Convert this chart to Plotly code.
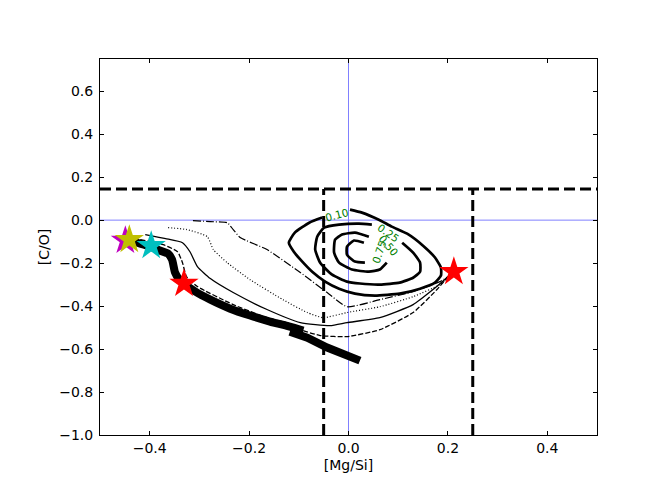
import plotly.graph_objects as go

# thick track, two pieces
thick_a_x = [-0.439, -0.425, -0.399, -0.385, -0.363, -0.355, -0.349, -0.341, -0.331, -0.308, -0.278, -0.238, -0.198, -0.158, -0.118, -0.091]
thick_a_y = [-0.095, -0.105, -0.123, -0.137, -0.156, -0.184, -0.244, -0.275, -0.296, -0.333, -0.370, -0.412, -0.444, -0.472, -0.496, -0.514]
thick_b_x = [-0.118, -0.083, -0.043, -0.003, 0.023]
thick_b_y = [-0.519, -0.547, -0.593, -0.635, -0.654]

# thin tracks
solid_x = [-0.409, -0.368, -0.334, -0.319, -0.304, -0.278, -0.232, -0.164, -0.097, -0.037, -0.003, 0.063, 0.130, 0.170, 0.200]
solid_y = [-0.067, -0.086, -0.105, -0.147, -0.216, -0.272, -0.337, -0.416, -0.477, -0.491, -0.477, -0.454, -0.393, -0.323, -0.263]
dash_x = [-0.419, -0.373, -0.344, -0.334, -0.326, -0.304, -0.232, -0.164, -0.118, -0.097, -0.057, -0.003, 0.063, 0.130, 0.178, 0.200]
dash_y = [-0.091, -0.114, -0.147, -0.198, -0.263, -0.309, -0.393, -0.454, -0.482, -0.510, -0.537, -0.542, -0.510, -0.430, -0.323, -0.263]
dot_x = [-0.363, -0.325, -0.284, -0.272, -0.244, -0.198, -0.132, -0.083, -0.051, -0.003, 0.063, 0.130, 0.184, 0.200]
dot_y = [-0.035, -0.044, -0.077, -0.137, -0.198, -0.277, -0.370, -0.430, -0.454, -0.430, -0.403, -0.356, -0.300, -0.268]
dashdot_x = [-0.313, -0.278, -0.244, -0.232, -0.218, -0.164, -0.097, -0.043, -0.003, 0.063, 0.130, 0.184, 0.200]
dashdot_y = [-0.002, -0.007, -0.012, -0.044, -0.081, -0.137, -0.244, -0.337, -0.403, -0.370, -0.333, -0.286, -0.263]

# density contours
c10_x = [0.003, 0.027, 0.061, 0.087, 0.118, 0.150, 0.174, 0.186, 0.186, 0.174, 0.144, 0.103, 0.053, 0.013, -0.019, -0.047, -0.073, -0.093, -0.110, -0.120, -0.108, -0.079, -0.053]
c10_y = [0.049, 0.035, 0.002, -0.030, -0.063, -0.119, -0.174, -0.221, -0.258, -0.291, -0.319, -0.342, -0.351, -0.342, -0.319, -0.286, -0.240, -0.193, -0.147, -0.105, -0.058, -0.012, 0.012]
c25_x = [0.108, 0.130, 0.144, 0.144, 0.130, 0.103, 0.063, 0.023, -0.003, -0.033, -0.057, -0.067, -0.063, -0.049, -0.019, 0.021, 0.047]
c25_y = [-0.105, -0.151, -0.198, -0.240, -0.268, -0.291, -0.300, -0.295, -0.286, -0.254, -0.198, -0.137, -0.077, -0.035, -0.021, -0.016, -0.021]
c50_x = [0.077, 0.063, 0.041, 0.007, -0.019, -0.029, -0.027, -0.013, 0.013, 0.041]
c50_y = [-0.198, -0.230, -0.240, -0.230, -0.198, -0.151, -0.091, -0.067, -0.058, -0.077]
c75_x = [0.031, 0.011, -0.003, -0.003, 0.013, 0.033]
c75_y = [-0.105, -0.095, -0.123, -0.161, -0.193, -0.198]

levels = ["0.10", "0.25", "0.50", "0.75"]
label_x = [-0.025, 0.081, 0.080, 0.061]
label_y = [0.026, -0.058, -0.116, -0.147]
label_angle = [-15, 35, 50, -72]

# stars
star_x = [-0.449, -0.441, -0.397, -0.331, 0.212]
star_y = [-0.095, -0.091, -0.119, -0.295, -0.240]
star_colors = ["#bf00bf", "#bfbf00", "#00bfbf", "#ff0000", "#ff0000"]

# limits
mgsi_cut = [-0.05, 0.25]
co_cut = 0.145

fig = go.Figure()

# blue zero lines
fig.add_shape(type="line", xref="x", yref="paper", x0=0, x1=0, y0=0, y1=1,
              line=dict(color="#8080ff", width=1), layer="below")
fig.add_shape(type="line", xref="paper", yref="y", x0=0, x1=1, y0=0, y1=0,
              line=dict(color="#8080ff", width=1), layer="below")

# cut lines
fig.add_shape(type="line", xref="paper", yref="y", x0=0, x1=1, y0=co_cut, y1=co_cut,
              line=dict(color="black", width=3, dash="11px,5px"))
for xc in mgsi_cut:
    fig.add_shape(type="line", xref="x", yref="y", x0=xc, x1=xc, y0=-1.0, y1=co_cut,
                  line=dict(color="black", width=3, dash="11px,5px"))

sm = dict(shape="spline", smoothing=0.5)
fig.add_trace(go.Scatter(x=solid_x, y=solid_y, mode="lines", line=dict(color="black", width=1.3, **sm)))
fig.add_trace(go.Scatter(x=dash_x, y=dash_y, mode="lines", line=dict(color="black", width=1.3, dash="5px,2px", **sm)))
fig.add_trace(go.Scatter(x=dot_x, y=dot_y, mode="lines", line=dict(color="black", width=1.2, dash="1px,2px", **sm)))
fig.add_trace(go.Scatter(x=dashdot_x, y=dashdot_y, mode="lines", line=dict(color="black", width=1.2, dash="8px,2px,1px,2px", **sm)))

fig.add_trace(go.Scatter(x=thick_a_x, y=thick_a_y, mode="lines", line=dict(color="black", width=8, **sm)))
fig.add_trace(go.Scatter(x=thick_b_x, y=thick_b_y, mode="lines", line=dict(color="black", width=8)))

for cx, cy in [(c10_x, c10_y), (c25_x, c25_y), (c50_x, c50_y), (c75_x, c75_y)]:
    fig.add_trace(go.Scatter(x=cx, y=cy, mode="lines", line=dict(color="black", width=2.7, **sm)))

for lv, lx, ly, la in zip(levels, label_x, label_y, label_angle):
    fig.add_annotation(x=lx, y=ly, text=lv, showarrow=False, textangle=la,
                       font=dict(family="DejaVu Sans", size=10.5, color="green"))

fig.add_trace(go.Scatter(x=star_x, y=star_y, mode="markers",
                         marker=dict(symbol="star", size=22, color=star_colors, line=dict(width=0))))

axis_style = dict(showgrid=False, zeroline=False, showline=True, linecolor="black", linewidth=1,
                  mirror="ticks", ticks="inside", ticklen=4, tickwidth=1, tickcolor="black",
                  tickfont=dict(family="DejaVu Sans", size=14, color="black"),
                  tickformat=".1f")

fig.update_xaxes(range=[-0.5, 0.5], tickvals=[-0.4, -0.2, 0.0, 0.2, 0.4],
                 title=dict(text="[Mg/Si]", font=dict(family="DejaVu Sans", size=14, color="black"), standoff=5),
                 **axis_style)
fig.update_yaxes(range=[-1.0, 0.75], tickvals=[-1.0, -0.8, -0.6, -0.4, -0.2, 0.0, 0.2, 0.4, 0.6],
                 title=dict(text="[C/O]", font=dict(family="DejaVu Sans", size=14, color="black"), standoff=6),
                 ticklabelstandoff=3, **axis_style)

# page body adds ~8px offset, so the figure is a bit smaller and shifted
fig.update_layout(width=656, height=490, showlegend=False,
                  plot_bgcolor="white", paper_bgcolor="white",
                  margin=dict(l=92, r=67, t=51, b=63))

fig.write_html("out.html")
